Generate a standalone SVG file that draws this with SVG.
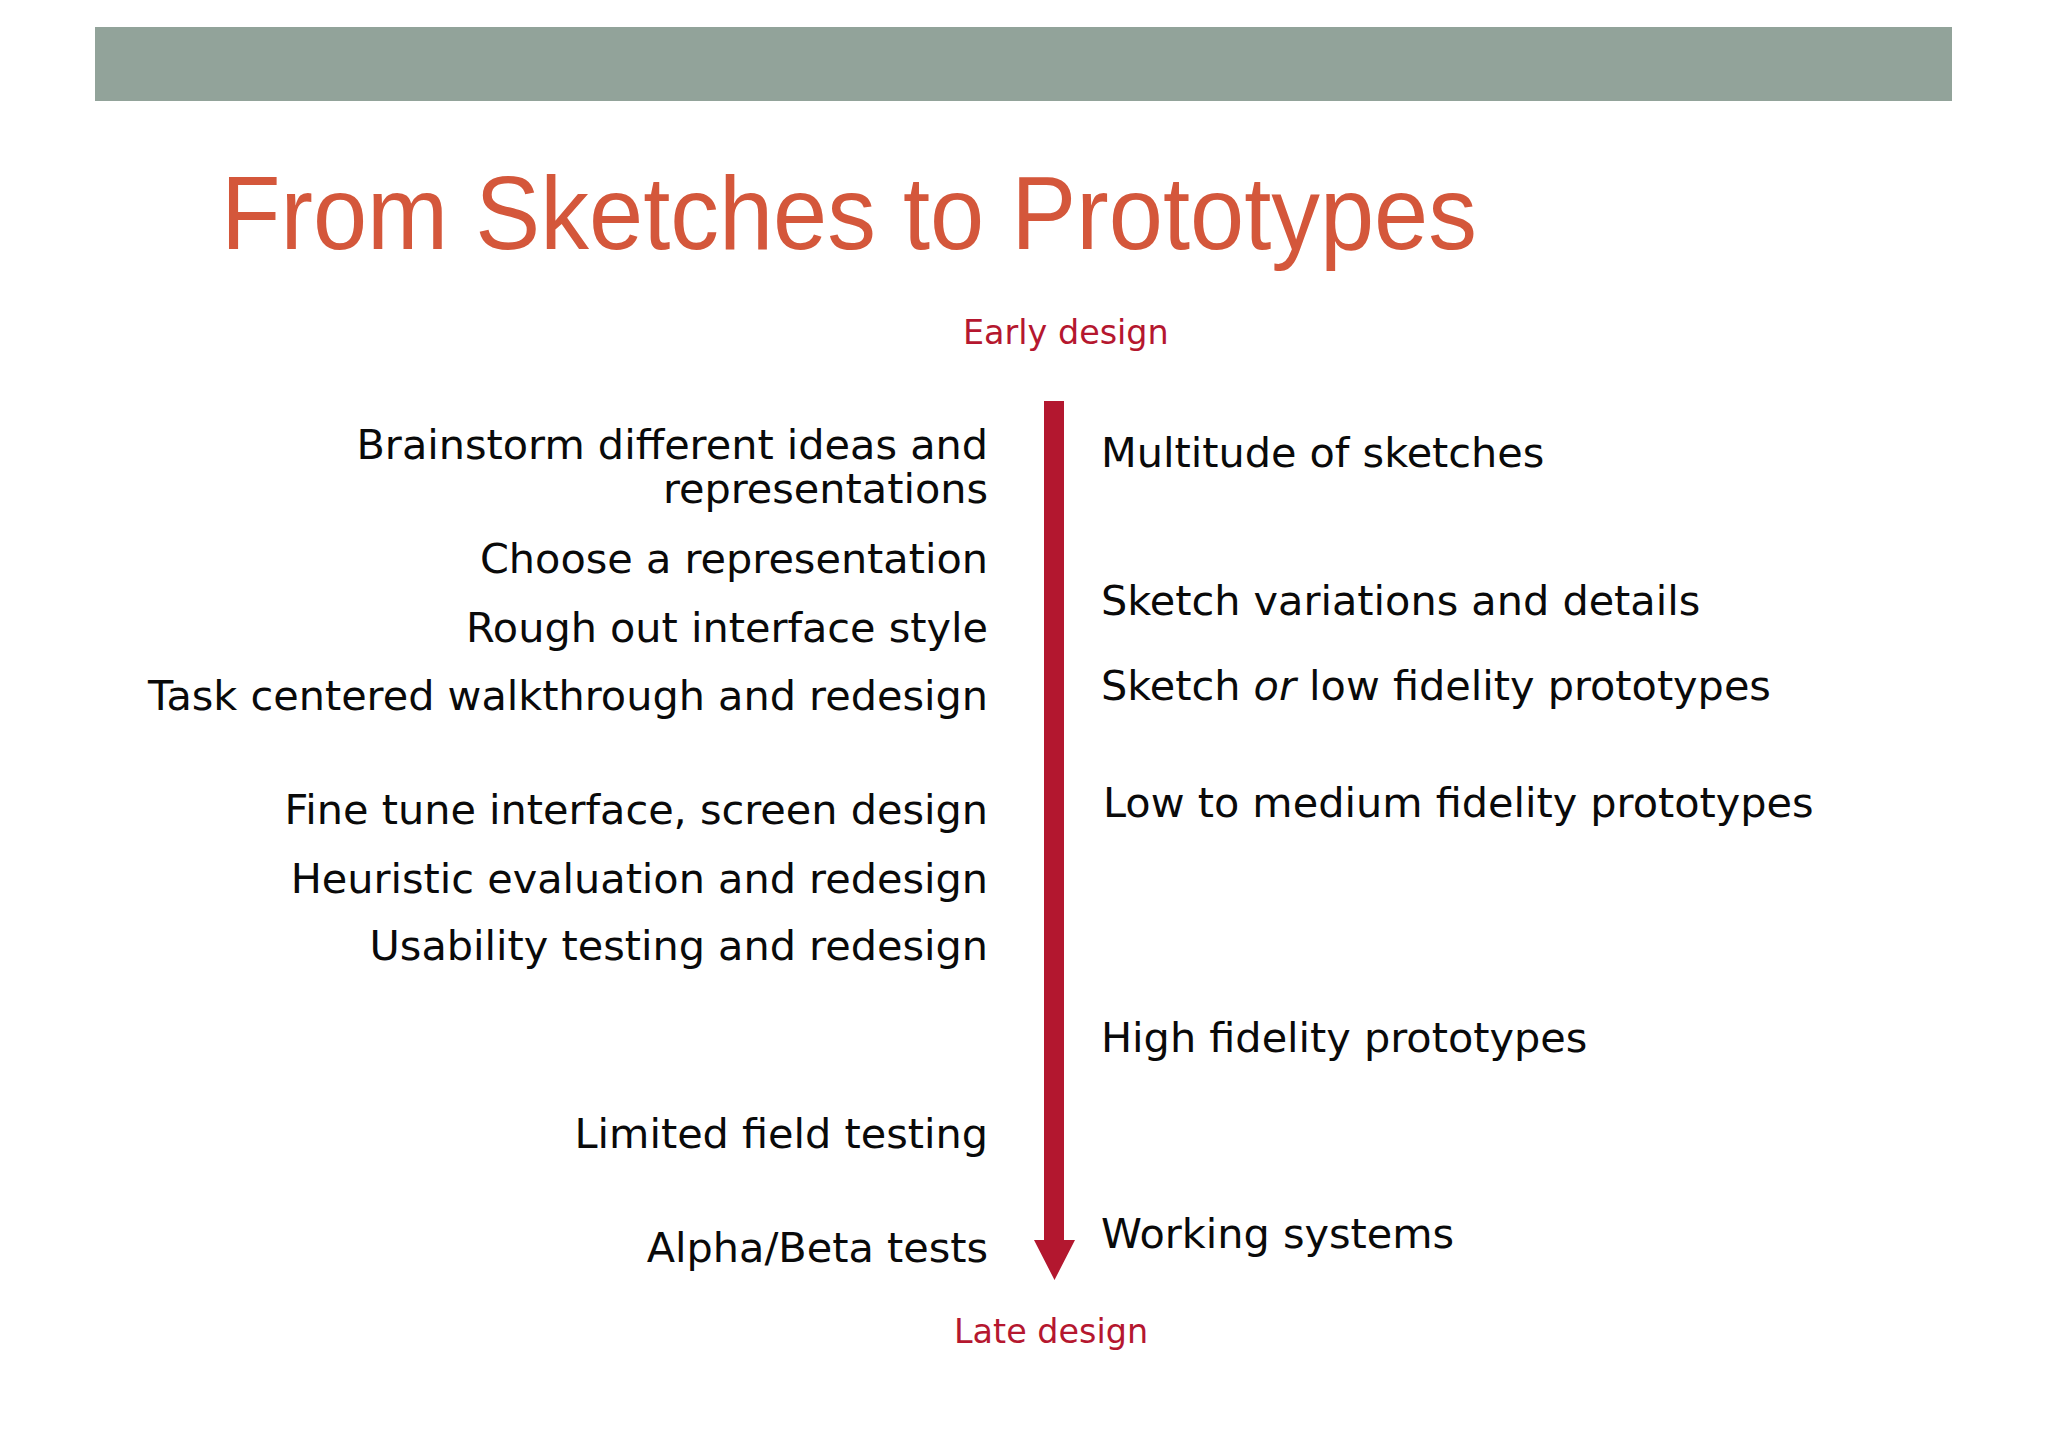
<svg xmlns="http://www.w3.org/2000/svg" width="2048" height="1447" viewBox="0 0 2048 1447">
<style>
.t{font-family:"DejaVu Sans","Verdana",sans-serif;font-size:41.4px;fill:#0a0a0a}
.l{text-anchor:end}
.red{font-family:"DejaVu Sans","Verdana",sans-serif;font-size:33.4px;fill:#b5172f}
.title{font-family:"Liberation Sans",Arial,sans-serif;font-size:104px;fill:#d4573b}
</style>
<rect width="2048" height="1447" fill="#ffffff"/>
<g id="header"><rect x="95" y="27" width="1857" height="74" fill="#92a39a"/></g>
<g id="title"><text class="title" x="221" y="249" textLength="1256" lengthAdjust="spacingAndGlyphs">From Sketches to Prototypes</text></g>
<g id="early"><text class="red" x="963" y="344">Early design</text></g>
<g id="late"><text class="red" x="954" y="1343">Late design</text></g>
<g id="connectors">
<path d="M1044 401 H1064 V1240 H1075 L1054.5 1280 L1034 1240 H1044 Z" fill="#b3172f"/>
</g>
<g id="left-activities">
<g id="a1"><text class="t l" x="988" y="459">Brainstorm different ideas and</text><text class="t l" x="988" y="503">representations</text></g>
<g id="a2"><text class="t l" x="988" y="573">Choose a representation</text></g>
<g id="a3"><text class="t l" x="988" y="642">Rough out interface style</text></g>
<g id="a4"><text class="t l" x="988" y="710">Task centered walkthrough and redesign</text></g>
<g id="a5"><text class="t l" x="988" y="824">Fine tune interface, screen design</text></g>
<g id="a6"><text class="t l" x="988" y="893">Heuristic evaluation and redesign</text></g>
<g id="a7"><text class="t l" x="988" y="960">Usability testing and redesign</text></g>
<g id="a8"><text class="t l" x="988" y="1148">Limited field testing</text></g>
<g id="a9"><text class="t l" x="988" y="1262">Alpha/Beta tests</text></g>
</g>
<g id="right-artifacts">
<g id="b1"><text class="t" x="1101" y="467">Multitude of sketches</text></g>
<g id="b2"><text class="t" x="1101" y="615">Sketch variations and details</text></g>
<g id="b3"><text class="t" x="1101" y="700">Sketch <tspan font-style="italic">or</tspan> low fidelity prototypes</text></g>
<g id="b4"><text class="t" x="1103" y="817">Low to medium fidelity prototypes</text></g>
<g id="b5"><text class="t" x="1101" y="1052">High fidelity prototypes</text></g>
<g id="b6"><text class="t" x="1101" y="1248">Working systems</text></g>
</g>
</svg>
